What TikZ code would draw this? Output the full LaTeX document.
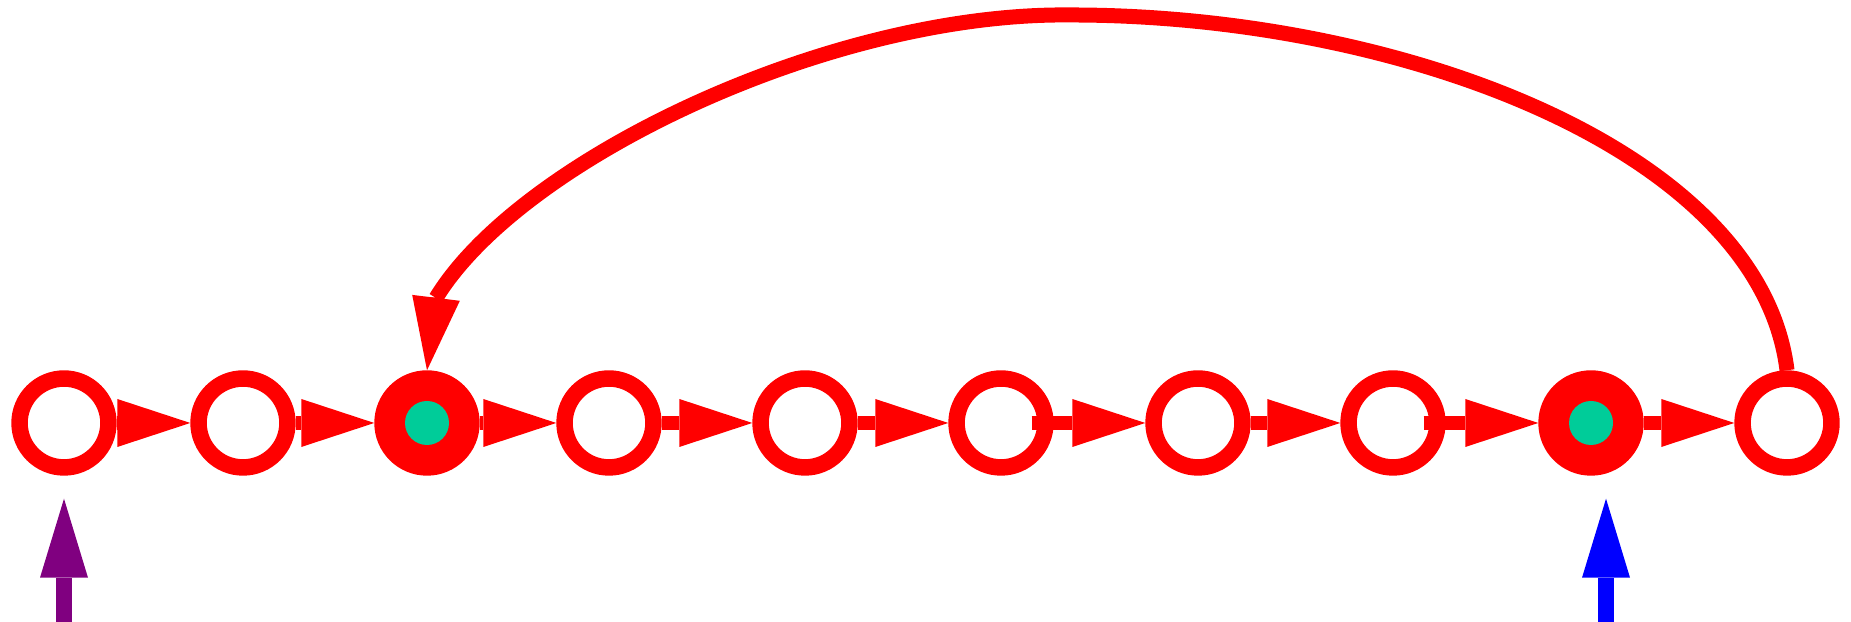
\documentclass[tikz,border=0pt]{standalone}
\usepackage{xcolor}
\usepackage{tikz}
\usetikzlibrary{arrows.meta, calc}
\definecolor{statered}{RGB}{255, 0, 0}
\definecolor{dotgreen}{RGB}{0, 204, 153}
\definecolor{startpurple}{RGB}{128, 0, 128}
\definecolor{startblue}{RGB}{0, 0, 255}

\begin{document}
\begin{tikzpicture}[
          statenode/.style={circle, draw=statered, line width=0.165cm, minimum size=0.889cm, inner sep=0pt},
          acceptnode/.style={statenode, fill=statered},
          dotnode/.style={circle, fill=dotgreen, minimum size=0.44cm, inner sep=0pt},
          edgearrow/.style={draw=statered, line width=0.147cm, -{Triangle[length=0.73cm, width=0.48cm, line width=0pt]}},
          stubedge/.style={edgearrow, shorten <=-0.22cm},
          loopedge/.style={edgearrow, line width=0.15cm},
          startarrow/.style={line width=0.16cm, -{Triangle[length=0.79cm, width=0.48cm, line width=0pt]}, shorten >=0.23cm}
        ]
          \useasboundingbox (0, 0) rectangle (18.51, 6.22);

          % States
          \node[statenode] (q0) at (0.64, 1.99) {};
          \node[statenode] (q1) at (2.43, 1.99) {};
          \node[acceptnode] (q2) at (4.27, 1.99) {};
          \node[dotnode] (q2dot) at (q2) {};
          \node[statenode] (q3) at (6.09, 1.99) {};
          \node[statenode] (q4) at (8.05, 1.99) {};
          \node[statenode] (q5) at (10.01, 1.99) {};
          \node[statenode] (q6) at (11.98, 1.99) {};
          \node[statenode] (q7) at (13.93, 1.99) {};
          \node[acceptnode] (q8) at (15.91, 1.99) {};
          \node[dotnode] (q8dot) at (q8) {};
          \node[statenode] (q9) at (17.87, 1.99) {};

          % Chain
          \draw[edgearrow] (q0) -- (q1);
          \draw[edgearrow] (q1) -- (q2);
          \draw[edgearrow] (q2) -- (q3);
          \draw[edgearrow] (q3) -- (q4);
          \draw[edgearrow] (q4) -- (q5);
          \draw[stubedge] (q5) -- (q6);
          \draw[edgearrow] (q6) -- (q7);
          \draw[stubedge] (q7) -- (q8);
          \draw[edgearrow] (q8) -- (q9);

          % Back edge
          \coordinate (looptop) at (10.71, 6.07);
          \coordinate (loopend) at (4.36, 3.24);
          \draw[loopedge] (q9.north) .. controls (17.60, 4.72) and (14.00, 6.07) .. (looptop)
            .. controls (8.30, 6.10) and (5.20, 4.62) .. (loopend) -- (q2.north);

          % Start markers
          \coordinate (in0) at (0.64, 0);
          \coordinate (in8) at (16.06, 0);
          \draw[startarrow, startpurple] (in0) -- (in0 |- q0.south);
          \draw[startarrow, startblue] (in8) -- (in8 |- q8.south);
        \end{tikzpicture}
\end{document}
